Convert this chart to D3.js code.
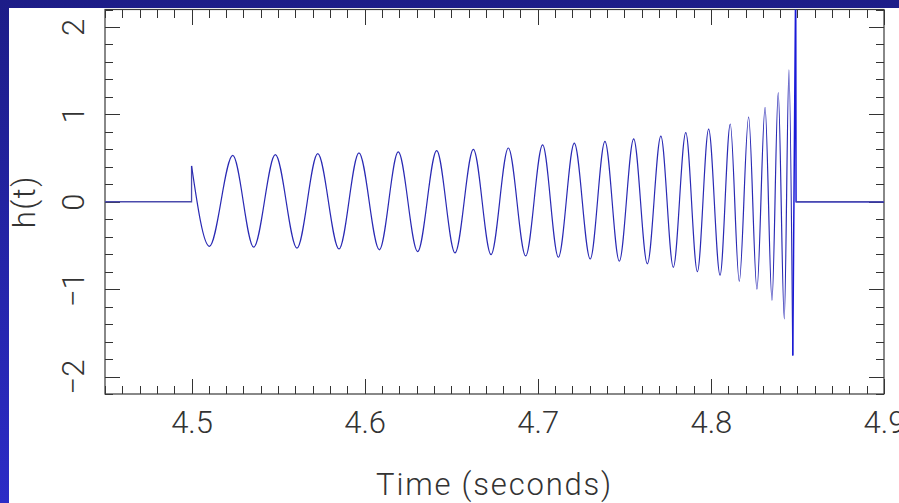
<!DOCTYPE html>
<html>
<head>
<meta charset="utf-8">
<script src="https://cdn.jsdelivr.net/npm/d3@7"></script>
<style>
  html, body { margin: 0; padding: 0; overflow: hidden; background: #fff; }
  svg { display: block; }
  text { font-family: Roboto, "Liberation Sans", Arial, sans-serif; font-weight: 300; }
</style>
</head>
<body>
<svg id="chart" width="899" height="503"></svg>
<script>
// ---------- data ----------
const xDomain = [4.45, 4.9];
const yDomain = [-2.2, 2.2];
const xTickValues = [4.5, 4.6, 4.7, 4.8, 4.9];
const xTickLabels = ["4.5", "4.6", "4.7", "4.8", "4.9"];
const yTickValues = [-2, -1, 0, 1, 2];
const yTickLabels = ["\u22122", "\u22121", "0", "1", "2"];

// flat part before the signal starts, and the jump at t = 4.5
const preT = [4.45, 4.5, 4.5];
const preH = [0, 0, 0.41];

// inspiral: successive peaks and troughs of the chirp
const chirpT = [4.5, 4.5103, 4.5238, 4.5359, 4.5484, 4.5609, 4.5729, 4.5852, 4.5967, 4.6085,
  4.6194, 4.6306, 4.6416, 4.6522, 4.6628, 4.6730, 4.6830, 4.6930, 4.7028, 4.7119,
  4.7211, 4.7303, 4.7388, 4.7471, 4.7554, 4.7633, 4.7711, 4.7783, 4.7855, 4.7922,
  4.7987, 4.8053, 4.8112, 4.8164, 4.8218, 4.8266, 4.8313, 4.8353, 4.8389, 4.8424,
  4.8451, 4.8473];
const chirpH = [0.41, -0.51, 0.53, -0.52, 0.54, -0.53, 0.55, -0.54, 0.56, -0.55,
  0.57, -0.57, 0.585, -0.585, 0.60, -0.605, 0.615, -0.62, 0.65, -0.635,
  0.67, -0.655, 0.69, -0.68, 0.72, -0.71, 0.75, -0.75, 0.79, -0.80,
  0.83, -0.84, 0.89, -0.91, 0.97, -1.00, 1.08, -1.13, 1.25, -1.34,
  1.51, -1.76];

// merger spike and flat tail
const postT = [4.8473, 4.8490, 4.8492, 4.9];
const postH = [-1.76, 2.6, 0, 0];

const xLabel = "Time (seconds)";
const yLabel = "h(t)";

// ---------- layout ----------
const W = 899, H = 503;
const plot = { left: 105, top: 9.5, right: 884, bottom: 394 };
const FONT = "Roboto, 'Liberation Sans', Arial, sans-serif";
const textColor = "#333";

const svg = d3.select("#chart");

// slide background
const defs = svg.append("defs");
const grad = defs.append("linearGradient").attr("id", "bg").attr("x1", 0).attr("y1", 0).attr("x2", 0).attr("y2", 1);
grad.append("stop").attr("offset", "0%").attr("stop-color", "#1d1d88");
grad.append("stop").attr("offset", "100%").attr("stop-color", "#2c2cc6");
svg.append("rect").attr("width", W).attr("height", H).attr("fill", "url(#bg)");
svg.append("rect").attr("x", 9).attr("y", 8).attr("width", W - 9).attr("height", H - 8).attr("fill", "#ffffff");

defs.append("clipPath").attr("id", "plotclip")
  .append("rect")
  .attr("x", plot.left).attr("y", plot.top)
  .attr("width", plot.right - plot.left).attr("height", plot.bottom - plot.top);

const x = d3.scaleLinear().domain(xDomain).range([plot.left, plot.right]);
const y = d3.scaleLinear().domain(yDomain).range([plot.bottom, plot.top]);

const xMinor = d3.range(0, 46).map(i => +(4.45 + i * 0.01).toFixed(2)).filter(v => !xTickValues.includes(v));
const yMinor = d3.range(0, 23).map(i => +(-2.2 + i * 0.2).toFixed(1)).filter(v => !yTickValues.includes(v));

const tickColor = "#333";
const MAJ = 15, MIN = 8;

function styleAxis(g) {
  g.select(".domain").remove();
  g.selectAll(".tick line").attr("stroke", tickColor).attr("stroke-width", 1).attr("shape-rendering", "crispEdges");
}

// bottom
svg.append("g").attr("transform", `translate(0,${plot.bottom})`)
  .call(d3.axisBottom(x).tickValues(xMinor).tickSize(-MIN).tickFormat(""))
  .call(styleAxis);
const xb = svg.append("g").attr("transform", `translate(0,${plot.bottom})`)
  .call(d3.axisBottom(x).tickValues(xTickValues).tickSize(-MAJ).tickFormat((d, i) => xTickLabels[i]))
  .call(styleAxis);
xb.selectAll(".tick text")
  .attr("y", 39).attr("dy", 0)
  .attr("fill", textColor).attr("font-size", 31)
  .attr("font-family", FONT).attr("font-weight", 300);

// top
svg.append("g").attr("transform", `translate(0,${plot.top})`)
  .call(d3.axisTop(x).tickValues(xMinor).tickSize(-MIN).tickFormat(""))
  .call(styleAxis);
svg.append("g").attr("transform", `translate(0,${plot.top})`)
  .call(d3.axisTop(x).tickValues(xTickValues).tickSize(-MAJ).tickFormat(""))
  .call(styleAxis);

// left
svg.append("g").attr("transform", `translate(${plot.left},0)`)
  .call(d3.axisLeft(y).tickValues(yMinor).tickSize(-MIN).tickFormat(""))
  .call(styleAxis);
const yl = svg.append("g").attr("transform", `translate(${plot.left},0)`)
  .call(d3.axisLeft(y).tickValues(yTickValues).tickSize(-MAJ).tickFormat((d, i) => yTickLabels[i]))
  .call(styleAxis);
yl.selectAll(".tick text")
  .attr("x", 0).attr("y", 0).attr("dy", 0)
  .attr("text-anchor", "middle")
  .attr("transform", "translate(-21,0) rotate(-90)")
  .attr("fill", textColor).attr("font-size", 31)
  .attr("font-family", FONT).attr("font-weight", 300);

// right
svg.append("g").attr("transform", `translate(${plot.right},0)`)
  .call(d3.axisRight(y).tickValues(yMinor).tickSize(-MIN).tickFormat(""))
  .call(styleAxis);
svg.append("g").attr("transform", `translate(${plot.right},0)`)
  .call(d3.axisRight(y).tickValues(yTickValues).tickSize(-MAJ).tickFormat(""))
  .call(styleAxis);

// frame
svg.append("rect")
  .attr("x", plot.left).attr("y", plot.top)
  .attr("width", plot.right - plot.left).attr("height", plot.bottom - plot.top)
  .attr("fill", "none").attr("stroke", "#3a3a3a").attr("stroke-width", 1.2);

// waveform
const waveColor = "#2a2ab4";
const gw = svg.append("g").attr("clip-path", "url(#plotclip)");
const linear = d3.line().x(d => x(d[0])).y(d => y(d[1]));
const smooth = d3.line().x(d => x(d[0])).y(d => y(d[1])).curve(d3.curveMonotoneX);

gw.append("path").datum(preT.map((t, i) => [t, preH[i]]))
  .attr("d", linear).attr("fill", "none").attr("stroke", "#4a4aac").attr("stroke-width", 1.3);
gw.append("path").datum(chirpT.map((t, i) => [t, chirpH[i]]))
  .attr("d", smooth).attr("fill", "none").attr("stroke", waveColor).attr("stroke-width", 1.2);
gw.append("path").datum(postT.map((t, i) => [t, postH[i]]))
  .attr("d", linear).attr("fill", "none").attr("stroke", "#1a1ad8").attr("stroke-width", 1.5);
gw.append("path").datum(postT.slice(2).map((t, i) => [t, postH[i + 2]]))
  .attr("d", linear).attr("fill", "none").attr("stroke", "#4a4aac").attr("stroke-width", 1.3);

// axis titles
svg.append("text")
  .attr("x", (plot.left + plot.right) / 2).attr("y", 495)
  .attr("text-anchor", "middle")
  .attr("font-size", 31).attr("letter-spacing", 1.8)
  .attr("font-family", FONT).attr("font-weight", 300)
  .attr("fill", textColor)
  .text(xLabel);

svg.append("text")
  .attr("transform", `translate(35,${y(0)}) rotate(-90)`)
  .attr("text-anchor", "middle")
  .attr("font-size", 31).attr("letter-spacing", 1.5)
  .attr("font-family", FONT).attr("font-weight", 300)
  .attr("fill", textColor)
  .text(yLabel);
</script>
</body>
</html>
